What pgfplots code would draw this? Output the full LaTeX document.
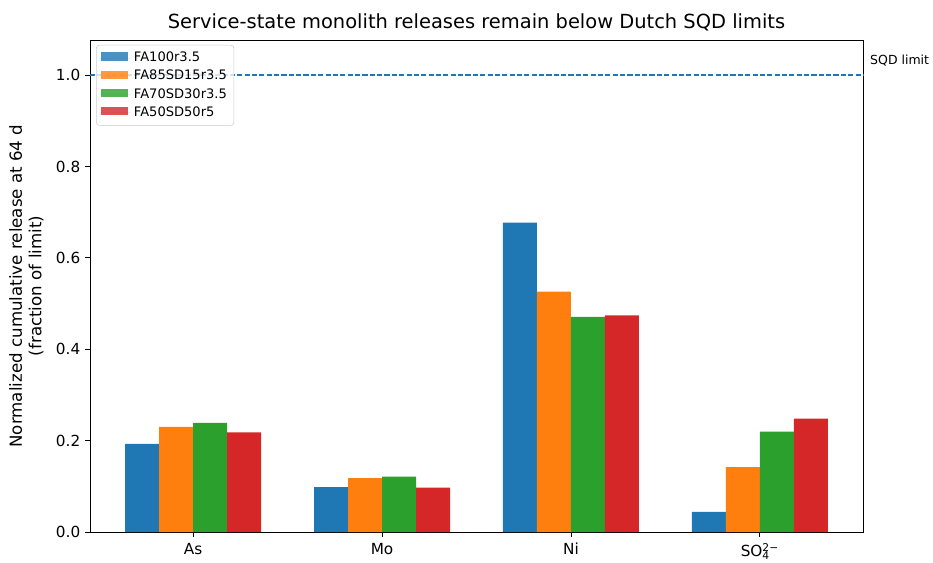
\documentclass[border=0pt]{standalone}
\usepackage{fontspec}
\setmainfont{DejaVu Sans}
\usepackage{pgfplots}
\pgfplotsset{compat=1.18}
\definecolor{c0}{HTML}{1F77B4}
\definecolor{c1}{HTML}{FF7F0E}
\definecolor{c2}{HTML}{2CA02C}
\definecolor{c3}{HTML}{D62728}
\begin{document}
\begin{tikzpicture}
\begin{axis}[
  at={(0,0)}, anchor=south west,
  scale only axis, width=556.56pt, height=354.24pt,
  xmin=-0.546, xmax=3.546, ymin=0, ymax=1.077,
  ybar, bar width=0.18,
  xtick={0,1,2,3},
  xticklabels={As,Mo,Ni,{SO\rlap{\textsubscript{4}}\textsuperscript{2−}}},
  ytick={0,0.2,0.4,0.6,0.8,1.0},
  yticklabel style={/pgf/number format/fixed,/pgf/number format/fixed zerofill,/pgf/number format/precision=1},
  /pgf/number format/assume math mode=true,
  tick align=outside, xtick pos=bottom, ytick pos=left,
  major tick length=3.5pt,
  tick style={black, line width=0.6pt},
  axis line style={line width=0.6pt},
  ticklabel style={font=\fontsize{11}{13}\selectfont},
  xticklabel style={yshift=-1pt},
  title={Service-state monolith releases remain below Dutch SQD limits},
  title style={font=\fontsize{14}{16}\selectfont, yshift=-3pt},
  ylabel={Normalized cumulative release at 64 d\\(fraction of limit)},
  ylabel style={font=\fontsize{12}{14}\selectfont, align=center, yshift=2pt},
  legend style={at={(0.008,0.99)}, anchor=north west, font=\fontsize{9.4}{11}\selectfont,
    fill=white, fill opacity=0.8, text opacity=1, draw=black!20, rounded corners=2pt,
    row sep=0.6pt, inner sep=3pt},
  legend cell align=left,
  legend image code/.code={\fill[#1, draw=none, sharp corners] (0pt,-2pt) rectangle (19.5pt,4pt);
     \path (0pt,0pt) -- (22pt,0pt);},
  clip=false,
]
\addplot[fill=c0, draw=none, bar shift=-0.27] coordinates {(0,0.193) (1,0.098) (2,0.677) (3,0.044)};
\addplot[fill=c1, draw=none, bar shift=-0.09] coordinates {(0,0.230) (1,0.118) (2,0.526) (3,0.142)};
\addplot[fill=c2, draw=none, bar shift=0.09] coordinates {(0,0.239) (1,0.121) (2,0.471) (3,0.220)};
\addplot[fill=c3, draw=none, bar shift=0.27] coordinates {(0,0.218) (1,0.097) (2,0.474) (3,0.248)};
\legend{FA100r3.5,FA85SD15r3.5,FA70SD30r3.5,FA50SD50r5}
\draw[draw=c0, line width=1.1pt, dash pattern=on 3.7pt off 1.6pt] (axis cs:-0.546,1.0) -- (axis cs:3.546,1.0);
\node[anchor=base west, font=\fontsize{9}{11}\selectfont, inner sep=0pt] at ([xshift=5pt,yshift=8pt]axis cs:3.546,1.0) {SQD limit};
\end{axis}
\pgfresetboundingbox
\path[use as bounding box] (-64.8pt,-21.6pt) rectangle (606.96pt,383.04pt);
\end{tikzpicture}
\end{document}
